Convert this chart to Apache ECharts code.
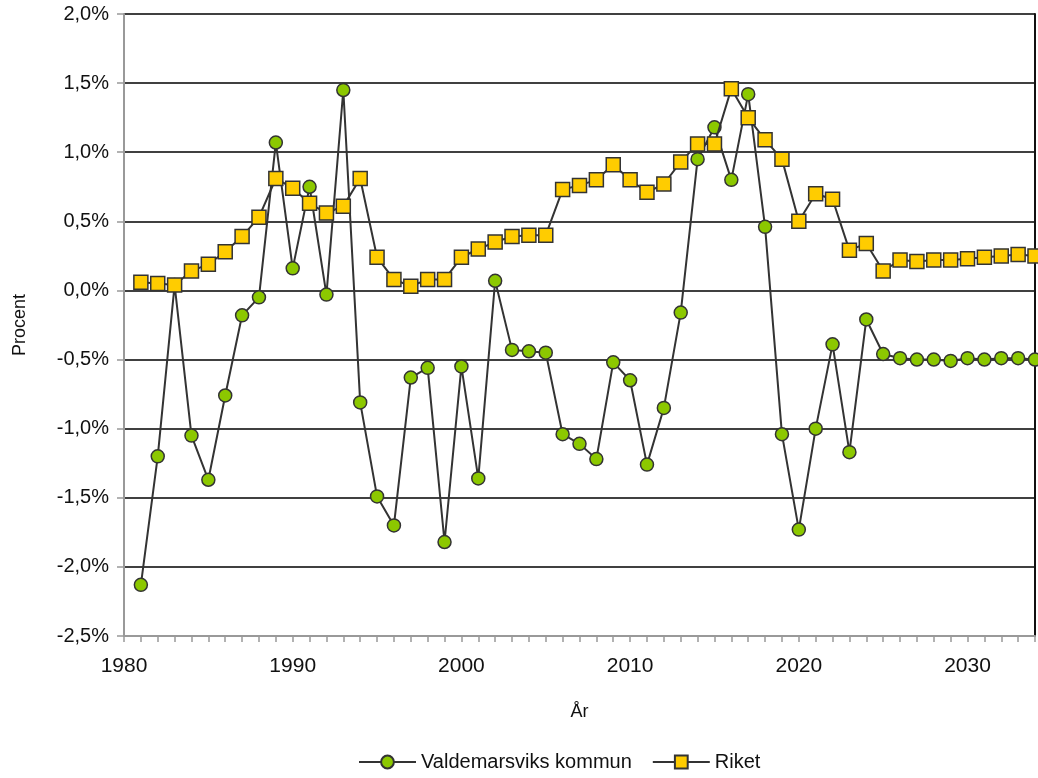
<!DOCTYPE html>
<html lang="sv">
<head>
    <meta charset="UTF-8">
    <title>Befolkningsförändring</title>
    <script src="https://cdn.jsdelivr.net/npm/echarts@6/dist/echarts.min.js"></script>
    <style>
        html, body { margin: 0; padding: 0; background: #fff; }
        #chart { width: 1038px; height: 778px; }
    </style>
</head>
<body>
<div id="chart"></div>
<script type="text/javascript">
    // årtal 1981-2034
    var years = [];
    for (var y = 1981; y <= 2034; y++) years.push(y);

    var valdemarsvik = [
        -2.13, -1.20, 0.04, -1.05, -1.37, -0.76, -0.18, -0.05, 1.07, 0.16,
        0.75, -0.03, 1.45, -0.81, -1.49, -1.70, -0.63, -0.56, -1.82, -0.55,
        -1.36, 0.07, -0.43, -0.44, -0.45, -1.04, -1.11, -1.22, -0.52, -0.65,
        -1.26, -0.85, -0.16, 0.95, 1.18, 0.80, 1.42, 0.46, -1.04, -1.73,
        -1.00, -0.39, -1.17, -0.21, -0.46, -0.49, -0.50, -0.50, -0.51, -0.49,
        -0.50, -0.49, -0.49, -0.50
    ];
    var riket = [
        0.06, 0.05, 0.04, 0.14, 0.19, 0.28, 0.39, 0.53, 0.81, 0.74,
        0.63, 0.56, 0.61, 0.81, 0.24, 0.08, 0.03, 0.08, 0.08, 0.24,
        0.30, 0.35, 0.39, 0.40, 0.40, 0.73, 0.76, 0.80, 0.91, 0.80,
        0.71, 0.77, 0.93, 1.06, 1.06, 1.46, 1.25, 1.09, 0.95, 0.50,
        0.70, 0.66, 0.29, 0.34, 0.14, 0.22, 0.21, 0.22, 0.22, 0.23,
        0.24, 0.25, 0.26, 0.25
    ];
    var seriesNames = ['Valdemarsviks kommun', 'Riket'];

    function pairs(vals) {
        return vals.map(function (v, i) { return [years[i], v]; });
    }

    var font = '"Liberation Sans", Arial, sans-serif';
    var myChart = echarts.init(document.getElementById('chart'), null, { renderer: 'canvas' });

    var option = {
        backgroundColor: '#fff',
        animation: false,
        textStyle: { fontFamily: font, color: '#111' },
        grid: { left: 124, right: 3, top: 14, bottom: 142, containLabel: false },
        legend: {
            top: 747,
            left: 353,
            itemWidth: 57,
            itemHeight: 16,
            itemGap: 20,
            textStyle: { fontSize: 20, color: '#111', fontFamily: font },
            data: seriesNames
        },
        xAxis: [{
            type: 'value',
            min: 1980, max: 2034, interval: 10,
            name: 'År', nameLocation: 'middle', nameGap: 67,
            nameTextStyle: { fontSize: 18, color: '#111' },
            axisLine: { show: true, onZero: false, lineStyle: { color: '#999', width: 2 } },
            axisTick: { show: false },
            axisLabel: {
                fontSize: 21, color: '#111', margin: 20, showMaxLabel: false,
                formatter: function (v) { return String(v); }
            },
            splitLine: { show: false }
        }, {
            // bara årsmarkeringar
            type: 'value',
            position: 'bottom',
            min: 1980, max: 2034, interval: 1,
            axisLine: { show: false, onZero: false },
            axisTick: { show: true, length: 6, lineStyle: { color: '#999', width: 1.5 } },
            axisLabel: { show: false },
            splitLine: { show: false }
        }],
        yAxis: [{
            type: 'value',
            min: -2.5, max: 2.0, interval: 0.5,
            name: 'Procent', nameLocation: 'middle', nameGap: 95, nameRotate: 90,
            nameTextStyle: { fontSize: 18, color: '#111' },
            axisLine: { show: true, lineStyle: { color: '#999', width: 2 } },
            axisTick: { show: true, length: 7, lineStyle: { color: '#999', width: 1.5 } },
            axisLabel: {
                fontSize: 20, color: '#111', margin: 15,
                formatter: function (v) { return v.toFixed(1).replace('.', ',') + '%'; }
            },
            splitLine: { show: true, lineStyle: { color: '#000', width: 1.6 } }
        }, {
            type: 'value',
            position: 'right',
            min: -2.5, max: 2.0, interval: 0.5,
            axisLine: { show: true, lineStyle: { color: '#111', width: 2 } },
            axisTick: { show: false },
            axisLabel: { show: false },
            splitLine: { show: false }
        }],
        series: [{
            name: seriesNames[0],
            type: 'line',
            data: pairs(valdemarsvik),
            symbol: 'circle',
            symbolSize: 13,
            lineStyle: { color: '#333', width: 2 },
            itemStyle: { color: '#8cc800', borderColor: '#333', borderWidth: 1.5 },
            z: 3
        }, {
            name: seriesNames[1],
            type: 'line',
            data: pairs(riket),
            symbol: 'rect',
            symbolSize: 14,
            lineStyle: { color: '#333', width: 2 },
            itemStyle: { color: '#ffcc00', borderColor: '#333', borderWidth: 1.5 },
            z: 4
        }]
    };

    myChart.setOption(option);
</script>
</body>
</html>
